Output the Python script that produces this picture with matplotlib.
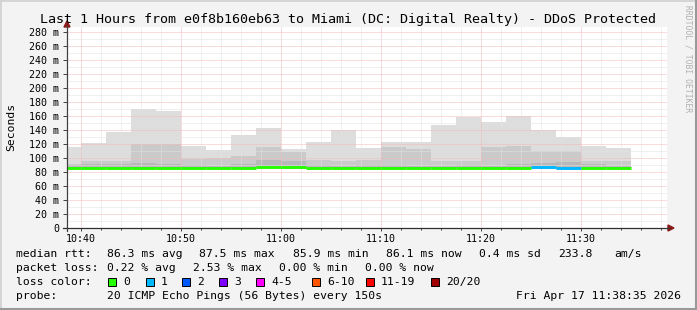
import numpy as np
import matplotlib
matplotlib.use("Agg")
import matplotlib.pyplot as plt
from matplotlib.lines import Line2D
from matplotlib.patches import Polygon, Rectangle

# samples every 150 s, x in minutes after 10:00 (end of each step)
step_end = [40, 42.5, 45, 47.5, 50, 52.5, 55, 57.5, 60, 62.5, 65, 67.5,
            70, 72.5, 75, 77.5, 80, 82.5, 85, 87.5, 90, 92.5, 95]
rtt_min = [84.5, 84.6, 84.5, 84.7, 84.6, 84.5, 84.4, 84.6, 85.0, 84.8, 84.6, 84.5,
           84.6, 84.5, 84.5, 84.4, 84.6, 84.5, 84.6, 84.7, 84.6, 84.5, 84.5]
rtt_dark = [90, 91, 91, 93, 92, 90, 89, 92, 97, 96, 90, 89,
            90, 90, 88, 88, 90, 88, 91, 93, 94, 91, 89]
rtt_mid = [92, 95, 95, 120, 120, 98, 99.5, 103, 116, 108, 97, 96,
           97, 115, 113, 95, 95, 116, 117.5, 110, 110, 96, 95]
rtt_max = [116, 121, 137, 170, 167, 117.5, 111, 133, 143, 113, 123, 140,
           114.5, 123, 123, 147, 159, 151.5, 160, 140, 130.5, 117, 114.5]
median = [86.3, 86.2, 86.1, 86.0, 86.4, 86.2, 86.3, 86.1, 87.5, 86.5, 86.2, 86.3,
          86.4, 86.1, 86.2, 86.4, 86.3, 86.2, 86.1, 86.5, 86.4, 86.0, 86.1]
loss = [0] * 19 + [1, 1] + [0, 0]

loss_labels = ["0", "1", "2", "3", "4-5", "6-10", "11-19", "20/20"]
loss_colors = ["#26ff00", "#00b8ff", "#0059ff", "#7e00ff", "#ff00ff",
               "#ff5500", "#ff0000", "#a10000"]

W, H = 697, 310
MONO = "DejaVu Sans Mono"


def fx(x):
    return x / W


def fy(y):
    return 1 - y / H


fig = plt.figure(figsize=(W / 100, H / 100), dpi=100, facecolor="#f3f3f3")
ax = fig.add_axes([fx(67), fy(228), 600 / W, 201 / H])
ax.set_facecolor("white")
ax.set_xlim(38.583, 98.583)
ax.set_ylim(0, 287.1)
for s in ax.spines.values():
    s.set_visible(False)

starts = np.array(step_end) - 2.5
lo = np.array(rtt_min)
for top, col, z in [(rtt_max, "#dddddd", 1), (rtt_mid, "#cacaca", 1.1),
                    (rtt_dark, "#b8b8b8", 1.2)]:
    ax.bar(starts, np.array(top) - lo, width=2.5, bottom=lo, align="edge",
           color=col, linewidth=0, antialiased=False, zorder=z)
ax.hlines(median, starts, step_end, colors=[loss_colors[l] for l in loss],
          linewidth=2.1, zorder=4)

# grid on top like rrdtool
for m in np.arange(40, 99, 2):
    major = (m % 10 == 0)
    ax.axvline(m, color="#f6b8b8" if major else "#e2e2e2", lw=0.72,
               dashes=(1, 1), zorder=3)
for v in range(10, 290, 10):
    major = (v % 20 == 0)
    ax.axhline(v, color="#f6b8b8" if major else "#e2e2e2", lw=0.72,
               dashes=(1, 1), zorder=3)

ax.set_yticks(range(0, 281, 20))
ax.set_yticklabels(["0"] + ["%d m" % v for v in range(20, 281, 20)])
ax.set_xticks(range(40, 91, 10))
ax.set_xticklabels(["10:40", "10:50", "11:00", "11:10", "11:20", "11:30"])
ax.set_xticks(range(40, 99, 2), minor=True)
ax.tick_params(axis="y", length=2.9, width=0.7, pad=2.6, labelsize=7.2, color="#404040")
ax.tick_params(axis="x", which="major", length=2.2, width=0.7, pad=2.0, labelsize=7.2,
               color="#404040")
ax.tick_params(axis="x", which="minor", length=1.4, width=0.7, color="#404040")
for lab in ax.get_xticklabels() + ax.get_yticklabels():
    lab.set_family(MONO)

# axes with arrows
fig.add_artist(Line2D([fx(67), fx(67)], [fy(231), fy(26)], color="#404040", lw=0.9))
fig.add_artist(Line2D([fx(63), fx(669)], [fy(228), fy(228)], color="#303030", lw=0.9))
fig.add_artist(Polygon([(fx(64), fy(27)), (fx(70), fy(27)), (fx(67), fy(21))],
                       closed=True, color="#8b1a1a"))
fig.add_artist(Polygon([(fx(668), fy(225)), (fx(668), fy(231)), (fx(674), fy(228))],
                       closed=True, color="#8b1a1a"))

fig.text(fx(348), fy(19), "Last 1 Hours from e0f8b160eb63 to Miami (DC: Digital Realty) - DDoS Protected",
         ha="center", va="center", family=MONO, fontsize=9.6)
fig.text(fx(11), fy(127), "Seconds", rotation=90, ha="center", va="center",
         family=MONO, fontsize=8.2)
fig.text(fx(688), fy(5), "RRDTOOL / TOBI OETIKER", rotation=270, ha="center", va="top",
         family=MONO, fontsize=5.8, color="#b0b0b0")

fs = 8.2
row1 = [(16, "median rtt:"), (107, "86.3 ms avg"), (199, "87.5 ms max"),
        (293, "85.9 ms min"), (386, "86.1 ms now"), (479, "0.4 ms sd"),
        (558, "233.8"), (614, "am/s")]
row2 = [(16, "packet loss:"), (107, "0.22 % avg"), (193, "2.53 % max"),
        (279, "0.00 % min"), (365, "0.00 % now")]
for x, t in row1:
    fig.text(fx(x), fy(254), t, ha="left", va="center", family=MONO, fontsize=fs)
for x, t in row2:
    fig.text(fx(x), fy(268), t, ha="left", va="center", family=MONO, fontsize=fs)

fig.text(fx(16), fy(282), "loss color:", ha="left", va="center", family=MONO, fontsize=fs)
box_x = [108, 146, 182, 219, 256, 312, 366, 431]
for x, lab, c in zip(box_x, loss_labels, loss_colors):
    fig.add_artist(Rectangle((fx(x), fy(286)), 8 / W, 8 / H, facecolor=c,
                             edgecolor="black", lw=0.7))
    fig.text(fx(x + 15), fy(282), lab, ha="left", va="center", family=MONO, fontsize=fs)

fig.text(fx(16), fy(296), "probe:", ha="left", va="center", family=MONO, fontsize=fs)
fig.text(fx(107), fy(296), "20 ICMP Echo Pings (56 Bytes) every 150s", ha="left",
         va="center", family=MONO, fontsize=fs)
fig.text(fx(681), fy(296), "Fri Apr 17 11:38:35 2026", ha="right", va="center",
         family=MONO, fontsize=fs)

# frame
fig.add_artist(Line2D([fx(0.5), fx(696)], [fy(0.5), fy(0.5)], color="#d0d0d0", lw=1.2))
fig.add_artist(Line2D([fx(0.5), fx(0.5)], [fy(0), fy(309)], color="#d0d0d0", lw=1.2))
fig.add_artist(Line2D([fx(696), fx(696)], [fy(0), fy(310)], color="#9a9a9a", lw=1.5))
fig.add_artist(Line2D([fx(0), fx(697)], [fy(309), fy(309)], color="#9a9a9a", lw=1.5))

fig.savefig("out.png", dpi=100, facecolor=fig.get_facecolor())
